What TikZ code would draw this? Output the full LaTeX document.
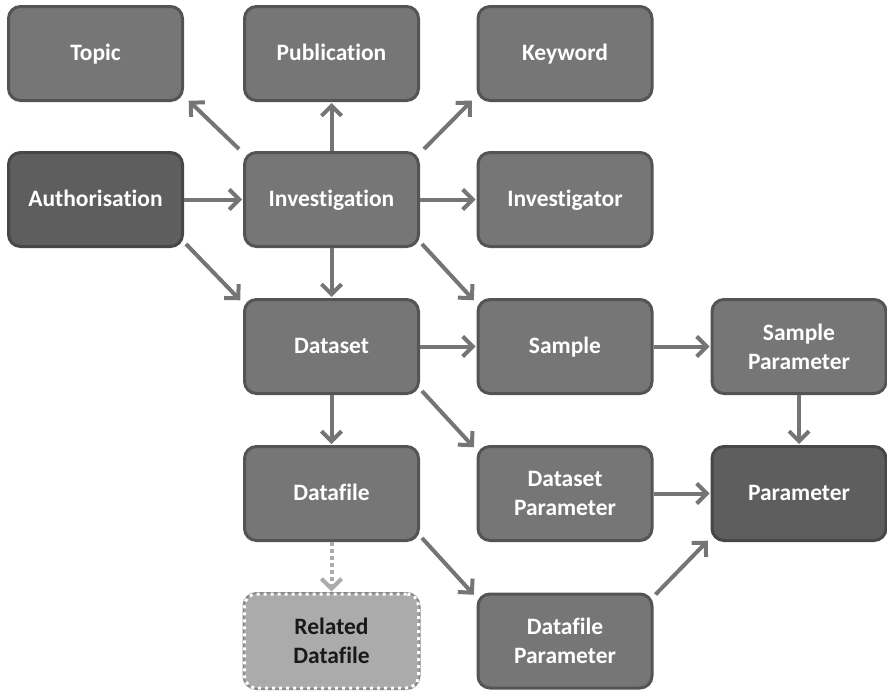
\documentclass[tikz,border=0pt]{standalone}
\usepackage{fontspec}
\setmainfont[RawFeature={-liga;-clig;-dlig;-calt}]{Carlito}
\usetikzlibrary{arrows.meta}
\definecolor{boxfill}{HTML}{767676}
\definecolor{boxline}{HTML}{545454}
\definecolor{darkfill}{HTML}{5E5E5E}
\definecolor{lightfill}{HTML}{ABABAB}
\definecolor{arrowcol}{HTML}{757575}
\begin{document}
\begin{tikzpicture}[x=1pt,y=-1pt,
  entity/.style={rectangle, rounded corners=12pt, fill=boxfill, draw=boxline,
    line width=3pt, minimum width=174pt, minimum height=94pt,
    text=white, font=\bfseries\fontsize{23.5}{29}\selectfont, align=center},
  single/.style={text height=16pt, text depth=2pt},
  darkentity/.style={entity, fill=darkfill, draw=boxline!85!black},
  ghost/.style={entity, fill=lightfill, draw=white, dash pattern=on 3pt off 4pt,
    line width=3pt, text=black!90,
    preaction={draw=lightfill!80!black, solid, line width=4pt}},
  link/.style={draw=arrowcol, line width=4pt,
    -{Straight Barb[length=10pt,width=20pt,line width=4pt]}, shorten >=1pt},
  softlink/.style={link, draw=lightfill, dash pattern=on 4pt off 3pt}]
\useasboundingbox (0,0) rectangle (887,696);

% entities
\node[entity,single]     (topic)   at (95.5,53.5)  {Topic};
\node[entity,single]     (pub)     at (331.5,53.5) {Publication};
\node[entity,single]     (kw)      at (565,53.5)   {Keyword};
\node[darkentity,single] (auth)    at (95.5,199.5) {Authorisation};
\node[entity,single]     (inv)     at (331.5,199.5){Investigation};
\node[entity,single]     (invr)    at (565,199.5)  {Investigator};
\node[entity,single]     (ds)      at (331.5,346.5){Dataset};
\node[entity,single]     (sample)  at (565,346.5)  {Sample};
\node[entity]            (sparam)  at (799,346.5)  {Sample\\Parameter};
\node[entity,single]     (df)      at (331.5,493.5){Datafile};
\node[entity]            (dsparam) at (565,493.5)  {Dataset\\Parameter};
\node[darkentity,single] (param)   at (799,493.5)  {Parameter};
\node[ghost]             (rdf)     at (331.5,641)  {Related\\Datafile};
\node[entity]            (dfparam) at (565,641)    {Datafile\\Parameter};

% relations
\draw[link] ([xshift=-4pt,yshift=2pt]inv.north west) -- ([xshift=4pt,yshift=2pt]topic.south east);
\draw[link] (inv) -- (pub);
\draw[link] ([xshift=4pt,yshift=2pt]inv.north east) -- ([xshift=-4pt,yshift=2pt]kw.south west);
\draw[link] (inv) -- (invr);
\draw[link] (auth) -- (inv);
\draw[link] ([xshift=2pt,yshift=4pt]auth.south east) -- ([xshift=-2pt,yshift=-3pt]ds.north west);
\draw[link] (inv) -- (ds);
\draw[link] ([xshift=2pt,yshift=4pt]inv.south east) -- ([xshift=-2pt,yshift=-3pt]sample.north west);
\draw[link] (ds) -- (sample);
\draw[link] ([xshift=2pt,yshift=4pt]ds.south east) -- ([xshift=-2pt,yshift=-3pt]dsparam.north west);
\draw[link] (ds) -- (df);
\draw[link] (sample) -- (sparam);
\draw[link] (sparam) -- (param);
\draw[link] (dsparam) -- (param);
\draw[link] ([xshift=2pt,yshift=4pt]df.south east) -- ([xshift=-2pt,yshift=-3pt]dfparam.north west);
\draw[link] ([xshift=2pt,yshift=-2pt]dfparam.north east) -- ([xshift=-2pt,yshift=2pt]param.south west);
\draw[softlink] (df) -- (rdf);
\end{tikzpicture}
\end{document}
